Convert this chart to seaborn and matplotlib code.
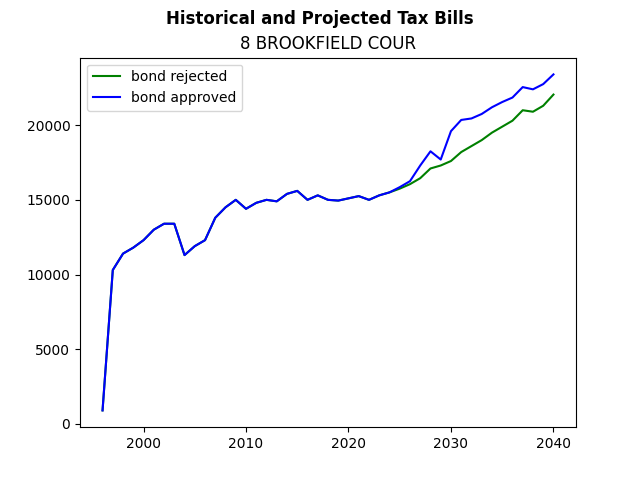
import matplotlib
matplotlib.use("Agg")
import matplotlib.pyplot as plt
import seaborn as sns
import pandas as pd

years = list(range(1996, 2041))
approved = [900, 10300, 11400, 11800, 12300, 13000, 13400, 13400, 11300, 11900,
            12300, 13800, 14500, 15000, 14400, 14800, 15000, 14900, 15400, 15600,
            15000, 15300, 15000, 14950, 15100, 15250, 15000, 15300, 15500, 15850,
            16250, 17300, 18250, 17700, 19600, 20350, 20450, 20750, 21200, 21550,
            21850, 22550, 22400, 22750, 23400]
rejected = approved[:29] + [15750, 16050, 16450, 17100, 17300, 17600, 18200, 18600,
                            19000, 19500, 19900, 20300, 21000, 20900, 21300, 22050]

df = pd.DataFrame({"year": years, "bond rejected": rejected, "bond approved": approved})

fig, ax = plt.subplots(figsize=(6.4, 4.8), dpi=100)
sns.lineplot(data=df, x="year", y="bond rejected", color="green", label="bond rejected", ax=ax)
sns.lineplot(data=df, x="year", y="bond approved", color="blue", label="bond approved", ax=ax)
ax.set_xlabel("")
ax.set_ylabel("")
ax.set_title("8 BROOKFIELD COUR")
fig.suptitle("Historical and Projected Tax Bills", fontweight="bold")
ax.legend(loc="upper left")
fig.savefig("out.png")
